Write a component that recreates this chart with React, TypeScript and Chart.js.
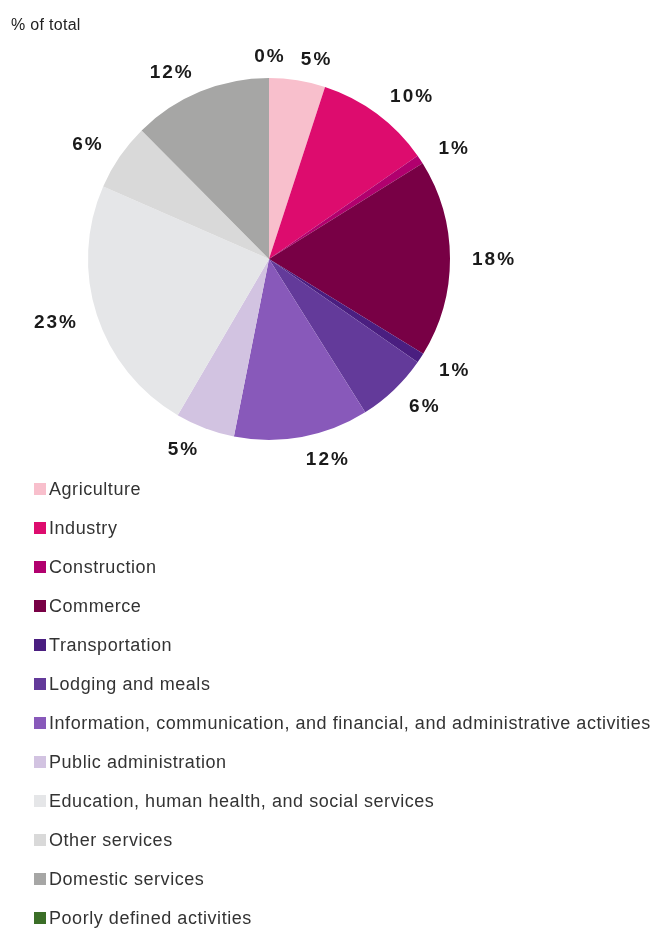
import React, { useEffect, useRef } from "react";
import { Chart, registerables } from "chart.js";

Chart.register(...registerables);

const categories = [
  "Agriculture",
  "Industry",
  "Construction",
  "Commerce",
  "Transportation",
  "Lodging and meals",
  "Information, communication, and financial, and administrative activities",
  "Public administration",
  "Education, human health, and social services",
  "Other services",
  "Domestic services",
  "Poorly defined activities",
];

const shares = [5.0, 10.3, 0.8, 17.6, 0.9, 6.4, 12.0, 5.3, 23.1, 6.0, 12.4, 0.0];

const colors = [
  "#F8BFCC",
  "#DD0C6E",
  "#B1006E",
  "#780045",
  "#4A1E80",
  "#633A9A",
  "#8859BA",
  "#D2C3E1",
  "#E5E6E8",
  "#D9D9D9",
  "#A6A6A5",
  "#3B6E27",
];

const titleText = "% of total";

const FONT = "'Liberation Sans', Arial, Helvetica, sans-serif";

const W = 654;
const H = 931;

const overlayPlugin = {
  id: "overlay",
  afterDraw(chart: any) {
    const ctx = chart.ctx as CanvasRenderingContext2D;
    ctx.save();
    // title
    ctx.fillStyle = "#222";
    (ctx as any).letterSpacing = "0.3px";
    ctx.font = `16px ${FONT}`;
    ctx.textAlign = "left";
    ctx.textBaseline = "alphabetic";
    ctx.fillText(titleText, 11, 30);

    // value labels around the pie
    const meta = chart.getDatasetMeta(0);
    const ds = chart.data.datasets[0];
    ctx.font = `bold 19px ${FONT}`;
    (ctx as any).letterSpacing = "2px";
    ctx.fillStyle = "#1a1a1a";
    ctx.textBaseline = "middle";
    meta.data.forEach((arc: any, i: number) => {
      const p = arc.getProps(["x", "y", "startAngle", "endAngle", "outerRadius"], true);
      const mid = (p.startAngle + p.endAngle) / 2;
      const r = p.outerRadius + 22;
      const c = Math.cos(mid);
      const x = p.x + c * r;
      const y = p.y + Math.sin(mid) * r + 1;
      const txt = `${Math.round(ds.data[i])}%`;
      if (c > 0.05) {
        ctx.textAlign = "left";
        ctx.fillText(txt, x, y);
      } else if (c < -0.05) {
        ctx.textAlign = "right";
        ctx.fillText(txt, x + 2, y);
      } else {
        ctx.textAlign = "center";
        ctx.fillText(txt, x + 1, y);
      }
    });

    // legend
    (ctx as any).letterSpacing = "0.55px";
    ctx.font = `18px ${FONT}`;
    ctx.textAlign = "left";
    ctx.textBaseline = "middle";
    const startY = 489;
    const step = 39;
    categories.forEach((label, i) => {
      const y = startY + i * step;
      ctx.fillStyle = colors[i];
      ctx.fillRect(34, y - 6, 12, 12);
      ctx.fillStyle = "#333";
      ctx.fillText(label, 49, y + 1);
    });
    ctx.restore();
  },
};

export default function App() {
  const canvasRef = useRef<HTMLCanvasElement | null>(null);

  useEffect(() => {
    document.body.style.margin = "0";
    if (!canvasRef.current) return;
    const chart = new Chart(canvasRef.current, {
      type: "pie",
      data: {
        labels: categories,
        datasets: [
          {
            data: shares,
            backgroundColor: colors,
            borderWidth: 0,
          },
        ],
      },
      options: {
        animation: false,
        responsive: false,
        maintainAspectRatio: false,
        layout: {
          padding: { left: 88, top: 78, right: 204, bottom: 491 },
        },
        plugins: {
          legend: { display: false },
          tooltip: { enabled: false },
          title: { display: false },
        },
      },
      plugins: [overlayPlugin],
    });
    return () => chart.destroy();
  }, []);

  return (
    <div style={{ width: W, height: H, overflow: "hidden" }}>
      <canvas ref={canvasRef} width={W} height={H} style={{ display: "block" }} />
    </div>
  );
}
